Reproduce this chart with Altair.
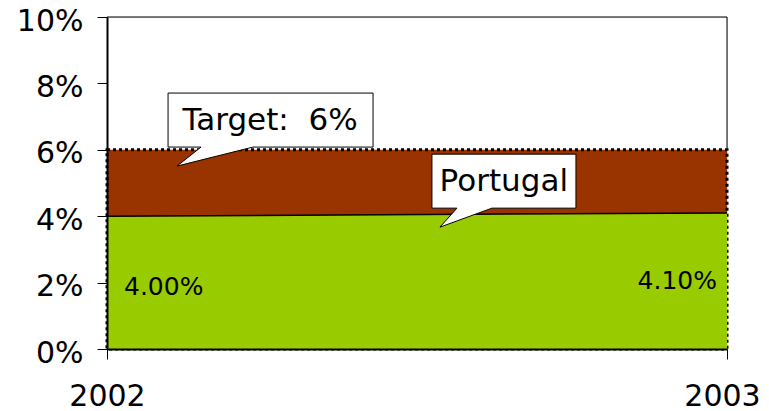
import altair as alt
import pandas as pd

# ---- data ----
years = [2002, 2003]
portugal = [4.0, 4.1]
portugal_labels = ["4.00%", "4.10%"]
target = 6
y_ticks = [0, 2, 4, 6, 8, 10]
x_ticks = [2002, 2003]

FONT = "DejaVu Sans"
BROWN = "#993300"
GREEN = "#99CC00"

df = pd.DataFrame({"year": years, "value": portugal, "label": portugal_labels,
                   "labely": [v / 2 for v in portugal]})
tgt = pd.DataFrame({"x0": [years[0]], "x1": [years[-1]], "y0": [0], "y1": [target]})

xs = alt.Scale(domain=[years[0], years[-1]], nice=False, zero=False)
ys = alt.Scale(domain=[0, 10], nice=False)

x_axis = alt.Axis(values=x_ticks, format="d", title=None, grid=False, domainColor="black",
                  domainWidth=2, tickColor="black", tickSize=10, labelFontSize=30,
                  labelFont=FONT, labelColor="black", labelPadding=22, zindex=1,
                  labelFlush=False,
                  labelOffset={"condition": {"test": "datum.value == 2003", "value": -5},
                               "value": 0})
y_axis = alt.Axis(values=y_ticks, labelExpr="datum.value + '%'", title=None, grid=False,
                  domainColor="black", domainWidth=2, tickColor="black", tickSize=10,
                  labelFontSize=30, labelFont=FONT, labelColor="black", labelPadding=14,
                  labelOffset=4, zindex=1)

target_rect = alt.Chart(tgt).mark_rect(fill=BROWN, stroke="black", strokeWidth=3,
                                        strokeDash=[3, 3]).encode(
    x=alt.X("x0:Q", scale=xs, axis=x_axis), x2="x1:Q",
    y=alt.Y("y0:Q", scale=ys, axis=y_axis), y2="y1:Q")

area = alt.Chart(df).mark_area(color=GREEN, opacity=1).encode(
    x=alt.X("year:Q", scale=xs), y=alt.Y("value:Q", scale=ys))
line = alt.Chart(df).mark_line(color="black", strokeWidth=1.5).encode(
    x=alt.X("year:Q", scale=xs), y=alt.Y("value:Q", scale=ys))

# plot frame: top border and right border above the target
frame = pd.DataFrame({"x0": [years[0], years[-1]], "x1": [years[-1], years[-1]],
                      "y0": [10, target], "y1": [10, 10]})
frame_rules = alt.Chart(frame).mark_rule(color="black", strokeWidth=1).encode(
    x=alt.X("x0:Q", scale=xs), x2="x1:Q", y=alt.Y("y0:Q", scale=ys), y2="y1:Q")

lab_first = alt.Chart(df.iloc[[0]]).mark_text(align="left", baseline="middle", dx=17, dy=4,
                                               fontSize=25, font=FONT, color="black").encode(
    x=alt.X("year:Q", scale=xs), y=alt.Y("labely:Q", scale=ys), text="label:N")
lab_last = alt.Chart(df.iloc[[1]]).mark_text(align="right", baseline="middle", dx=-10,
                                              fontSize=25, font=FONT, color="black").encode(
    x=alt.X("year:Q", scale=xs), y=alt.Y("labely:Q", scale=ys), text="label:N")

# callouts
callouts = pd.DataFrame({
    "tipx": [2002.113, 2002.537], "tipy": [5.51, 3.67],
    "tx": [2002.263, 2002.640], "ty": [6.88, 5.04],
    "text": ["Target:\u00a0\u00a06%", "Portugal"],
})
shape_target = "M -9 -73 L 196 -73 L 196 -19 L 76 -19 L 0 0 L 24 -19 L -9 -19 Z"
shape_port = "M -8 -73 L 136 -73 L 136 -19 L 52 -19 L 0 0 L 17 -19 L -8 -19 Z"

bubble1 = alt.Chart(callouts.iloc[[0]]).mark_point(
    shape=shape_target, size=4, filled=True, fill="white", stroke="black",
    strokeWidth=1, opacity=1).encode(x=alt.X("tipx:Q", scale=xs), y=alt.Y("tipy:Q", scale=ys))
bubble2 = alt.Chart(callouts.iloc[[1]]).mark_point(
    shape=shape_port, size=4, filled=True, fill="white", stroke="black",
    strokeWidth=1, opacity=1).encode(x=alt.X("tipx:Q", scale=xs), y=alt.Y("tipy:Q", scale=ys))
bubble_text = alt.Chart(callouts).mark_text(fontSize=31, font=FONT, color="black",
                                            baseline="middle", align="center").encode(
    x=alt.X("tx:Q", scale=xs), y=alt.Y("ty:Q", scale=ys), text="text:N")

chart = alt.layer(target_rect, area, line, frame_rules, lab_first, lab_last,
                  bubble1, bubble2, bubble_text).properties(
    width=620, height=332,
    autosize=alt.AutoSizeParams(type="none"),
    padding={"left": 99, "top": 9, "right": 34, "bottom": 60},
).configure_view(stroke=None).configure(background="white")

chart.save("out.html", embed_options={"renderer": "svg", "actions": False})
